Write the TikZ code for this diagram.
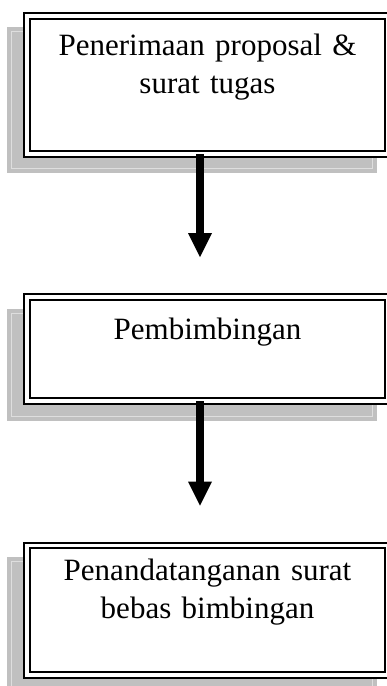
\documentclass[tikz,border=0pt]{standalone}
\usepackage{fontspec}
\setmainfont{Liberation Serif}
\usetikzlibrary{arrows.meta}
\definecolor{shadowgray}{RGB}{192,192,192}
\definecolor{shadowedge}{RGB}{222,222,222}
\begin{document}
\begin{tikzpicture}[x=1pt,y=-1pt,line join=miter,
  box/.style={draw,fill=white,line width=2.2pt,double=white,double distance=3.4pt,
    inner sep=0pt,outer sep=0pt,anchor=north,text width=361pt,align=center,
    font=\fontsize{31}{38.5}\selectfont},
  shade/.style={fill=shadowgray},
  shadeline/.style={draw=shadowedge,line width=1pt},
  flow/.style={line width=8pt,-{Triangle[width=24pt,length=24pt,line width=0pt]},
    shorten >=40pt}]
  \useasboundingbox (0,0) rectangle (387,686);
  % grey shadows behind the boxes
  \fill[shade] (7,27) rectangle (377,173);
  \draw[shadeline] (11.5,31.5) rectangle (372.5,168.5);
  \fill[shade] (7,309) rectangle (377,421);
  \draw[shadeline] (11.5,313.5) rectangle (372.5,416.5);
  \fill[shade] (7,557) rectangle (377,695);
  \draw[shadeline] (11.5,561.5) rectangle (372.5,690.5);
  % steps
  \node[box,text height=39pt,text depth=99pt] (terima) at (207.5,16)
    {Penerimaan proposal \&\\surat tugas};
  \node[box,text height=42pt,text depth=62pt] (bimbing) at (207.5,297)
    {Pembimbingan};
  \node[box,text height=34.5pt,text depth=95pt] (bebas) at (207.5,545.5)
    {Penandatanganan surat\\bebas bimbingan};
  % arrows between steps
  \draw[flow] ([xshift=-7.5pt]terima.south) -- ([xshift=-7.5pt]bimbing.north);
  \draw[flow] ([xshift=-7.5pt]bimbing.south) -- ([xshift=-7.5pt]bebas.north);
\end{tikzpicture}
\end{document}
